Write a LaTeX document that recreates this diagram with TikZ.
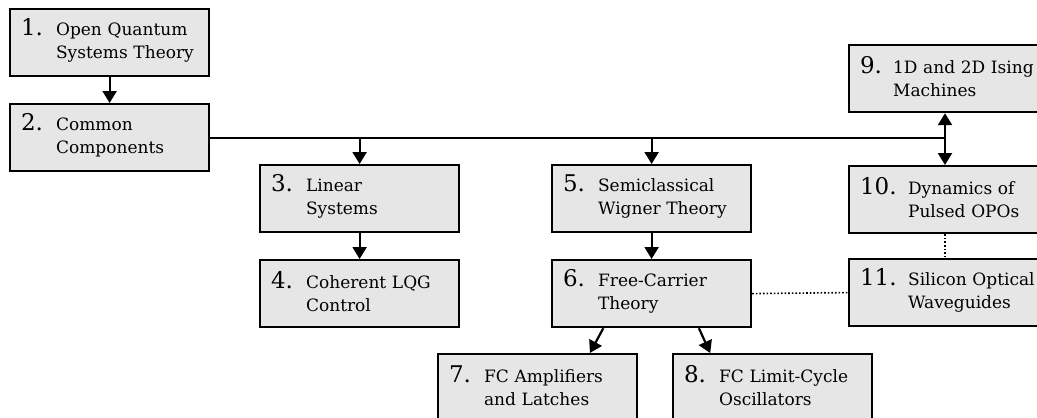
\documentclass[tikz,border=0pt]{standalone}
\usepackage{fontspec}
\setmainfont{DejaVu Serif}
\usetikzlibrary{arrows.meta,calc}
\definecolor{boxgray}{RGB}{230,230,230}
\newcommand{\bx}[3]{\makebox[#1pt][l]{\smash{\fontsize{23}{23}\selectfont #2}}\parbox[t]{160pt}{\raggedright #3}}
\begin{document}
\begin{tikzpicture}[x=1pt,y=-1pt,
  box/.style={draw=black,fill=boxgray,line width=2.2pt,minimum width=199pt,minimum height=67pt,
    anchor=north west,inner xsep=11pt,inner ysep=0pt,text width=177pt,align=left,
    font=\fontsize{17}{23}\selectfont},
  arr/.style={line width=2.2pt,-{Triangle[width=14pt,length=12pt]}},
  darr/.style={line width=2.2pt,{Triangle[width=14pt,length=12pt]}-{Triangle[width=14pt,length=12pt]}},
  bus/.style={line width=2.2pt},
  dot/.style={line width=1.6pt,dotted}]
\useasboundingbox (0,0) rectangle (1037,418);
\clip (0,0) rectangle (1037,418);
\node[box] (b1) at (9,8) {\bx{35}{1.}{Open Quantum\\Systems Theory}};
\node[box] (b2) at (9,103) {\bx{35}{2.}{Common\\Components}};
\node[box] (b3) at (259,164) {\bx{35}{3.}{Linear\\Systems}};
\node[box] (b4) at (259,259) {\bx{35}{4.}{Coherent LQG\\Control}};
\node[box] (b5) at (551,164) {\bx{35}{5.}{Semiclassical\\Wigner Theory}};
\node[box] (b6) at (551,259) {\bx{35}{6.}{Free-Carrier\\Theory}};
\node[box] (b7) at (437,353) {\bx{35}{7.}{FC Amplifiers\\and Latches}};
\node[box] (b8) at (672,353) {\bx{35}{8.}{FC Limit-Cycle\\Oscillators}};
\node[box] (b9) at (848,44) {\bx{33}{9.}{1D and 2D Ising\\Machines}};
\node[box] (b10) at (848,165) {\bx{48}{10.}{Dynamics of\\Pulsed OPOs}};
\node[box] (b11) at (848,258) {\bx{48}{11.}{Silicon Optical\\Waveguides}};
% bus
\coordinate (j3) at (b3.north |- b2.east);
\coordinate (j5) at (b5.north |- b2.east);
\coordinate (j9) at (945,0 |- b2.east);
\draw[bus] (b2.east) -- (j9);
\draw[arr] (b1.south) -- (b2.north);
\draw[arr] (j3) -- (b3.north);
\draw[arr] (j5) -- (b5.north);
\draw[darr] (j9 |- b9.south) -- (j9 |- b10.north);
\draw[arr] (b3.south) -- (b4.north);
\draw[arr] (b5.south) -- (b6.north);
\draw[arr] ($(b6.south west)!0.26!(b6.south east)$) -- ($(b7.north west)!0.76!(b7.north east)$);
\draw[arr] ($(b6.south west)!0.735!(b6.south east)$) -- ($(b8.north west)!0.19!(b8.north east)$);
\draw[dot] (b6.east) -- (b11.west);
\draw[dot] (j9 |- b10.south) -- (j9 |- b11.north);
\end{tikzpicture}
\end{document}
